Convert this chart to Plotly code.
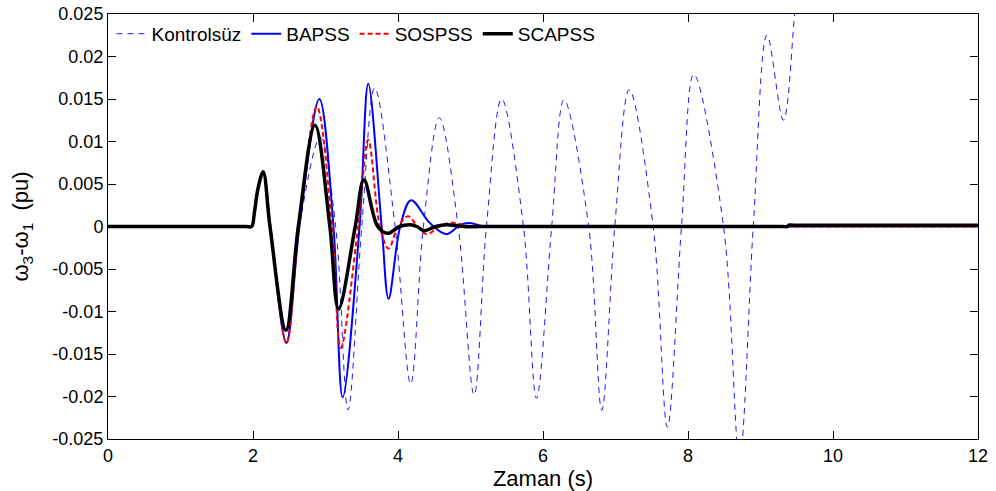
import plotly.graph_objects as go

# ---- data ----
t_kontrolsuz = [0, 1.9, 1.98, 2.02, 2.07, 2.14, 2.24, 2.46, 2.64, 2.93, 3.14, 3.31, 3.50, 3.68,
                3.96, 4.175, 4.35, 4.57, 4.83, 5.05, 5.22, 5.43, 5.73, 5.91, 6.12, 6.29,
                6.63, 6.81, 6.99, 7.19, 7.52, 7.715, 7.91, 8.08, 8.49, 8.71, 8.90, 9.09,
                9.315, 9.47, 9.55]
v_kontrolsuz = [0, 0, 0, 0.0017, 0.0045, 0.0065, 0, -0.0137, 0, 0.0105, 0, -0.0216, 0, 0.0163,
                0, -0.0185, 0, 0.0128, 0, -0.0198, 0, 0.0150, 0, -0.0202, 0, 0.0149,
                0, -0.0216, 0, 0.0161, 0, -0.0236, 0, 0.0179, 0, -0.0272, 0, 0.0225,
                0.0125, 0.0250, 0.034]

t_bapss = [0, 1.9, 1.98, 2.02, 2.07, 2.14, 2.24, 2.46, 2.64, 2.915, 3.11, 3.237, 3.47, 3.59,
           3.775, 3.87, 4.03, 4.18, 4.44, 4.67, 4.86, 4.99, 5.2, 5.6, 6.5, 8, 10, 12]
v_bapss = [0, 0, 0, 0.0017, 0.0045, 0.0065, 0, -0.0137, 0, 0.0150, 0, -0.0201, 0, 0.0168,
           0, -0.0085, 0, 0.0031, 0.0004, -0.0009, 0.0002, 0.0004, 0, 0, 0, 0, 0, 0]

t_sospss = [0, 1.9, 1.98, 2.02, 2.07, 2.14, 2.24, 2.46, 2.635, 2.88, 3.09, 3.21, 3.45, 3.59,
            3.75, 3.87, 4.00, 4.14, 4.27, 4.40, 4.57, 4.74, 5.0, 5.4, 6.5, 8, 10, 12]
v_sospss = [0, 0, 0, 0.0017, 0.0045, 0.0065, 0, -0.0137, 0, 0.0141, 0, -0.0143, 0, 0.0102,
            0, -0.0026, 0, 0.0012, 0, -0.0009, 0, 0.00045, 0, 0, 0, 0, 0, 0]

t_scapss = [0, 1.9, 1.98, 2.02, 2.07, 2.14, 2.234, 2.455, 2.625, 2.855, 3.06, 3.18, 3.41, 3.53,
            3.72, 3.86, 4.02, 4.17, 4.26, 4.36, 4.52, 4.67, 4.9, 5.3, 6.5, 8, 9.3, 9.37,
            9.39, 9.46, 10.5, 12]
v_scapss = [0, 0, 0, 0.0017, 0.0045, 0.0064, 0, -0.0122, 0, 0.0119, 0, -0.0097, 0, 0.0055,
            0, -0.0008, 0, 0.0002, 0, -0.0005, 0, 0.0002, 0, 0, 0, 0, 0, 0,
            0.00015, 0.00015, 0.00015, 0.00015]

x_ticks = [0, 2, 4, 6, 8, 10, 12]
y_ticks = [0.025, 0.02, 0.015, 0.01, 0.005, 0, -0.005, -0.01, -0.015, -0.02, -0.025]
y_ticktext = ["0.025", "0.02", "0.015", "0.01", "0.005", "0", "-0.005", "-0.01",
              "-0.015", "-0.02", "-0.025"]

FONT = "Arial, 'Liberation Sans', sans-serif"

fig = go.Figure()
fig.add_trace(go.Scatter(x=t_kontrolsuz, y=v_kontrolsuz, mode="lines", name="Kontrolsüz",
                         line=dict(color="#1a1aff", width=1, dash="6px,5px", shape="spline")))
fig.add_trace(go.Scatter(x=t_bapss, y=v_bapss, mode="lines", name="BAPSS",
                         line=dict(color="#0000ff", width=2, shape="spline")))
fig.add_trace(go.Scatter(x=t_sospss, y=v_sospss, mode="lines", name="SOSPSS",
                         line=dict(color="#ff0000", width=2, dash="5px,3px", shape="spline")))
fig.add_trace(go.Scatter(x=t_scapss, y=v_scapss, mode="lines", name="SCAPSS",
                         line=dict(color="#000000", width=3.5, shape="spline")))

axis_common = dict(showgrid=False, zeroline=False, showline=True, linecolor="#000000",
                   linewidth=1, mirror="allticks", ticks="inside", ticklen=8,
                   tickcolor="#000000", automargin=False,
                   tickfont=dict(family=FONT, size=18, color="#000000"))

fig.update_layout(
    width=996, height=491,
    margin=dict(l=108, r=18, t=14, b=52, autoexpand=False),
    paper_bgcolor="white", plot_bgcolor="white",
    font=dict(family=FONT, color="#000000"),
    showlegend=True,
    legend=dict(orientation="h", x=0.004, y=0.998, xanchor="left", yanchor="top",
                bgcolor="rgba(0,0,0,0)", font=dict(family=FONT, size=19),
                itemwidth=30),
    xaxis=dict(range=[0, 12], tickvals=x_ticks, ticklabelstandoff=0,
               title=dict(text="Zaman (s)", font=dict(family=FONT, size=22), standoff=0),
               **axis_common),
    yaxis=dict(range=[-0.025, 0.025], tickvals=y_ticks, ticktext=y_ticktext,
               title=dict(text="ω<sub>3</sub>-ω<sub>1</sub>  (pu)",
                          font=dict(family=FONT, size=22), standoff=17),
               **axis_common),
)

fig.write_html("out.html")
